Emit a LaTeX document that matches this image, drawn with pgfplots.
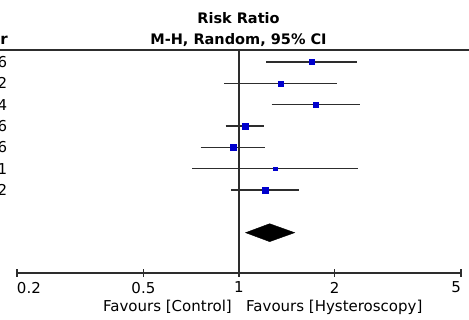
\documentclass[border=0pt]{standalone}
\usepackage{pgfplots}
\pgfplotsset{compat=1.18}
\usepackage{fontspec}
\setmainfont{DejaVu Sans}
\definecolor{mkblue}{RGB}{0,0,205}
\definecolor{ln}{RGB}{45,45,45}
\begin{document}
\begin{tikzpicture}[x=1pt,y=1pt]
\begin{scope}
\clip (0,0) rectangle (469,320);
\begin{axis}[
  at={(17pt,47pt)}, anchor=south west,
  scale only axis, width=444pt, height=223pt,
  xmode=log, xmin=0.2, xmax=5,
  ymin=0.4375, ymax=10.89, y dir=reverse,
  axis x line*=bottom, axis y line=none,
  xtick={0.2,0.5,1,2,5},
  xticklabels={\makebox[0pt][l]{0.2},0.5,1,2,\makebox[0pt][r]{5}},
  minor xtick={},
  tick align=center, major tick length=8pt,
  tick style={ln, line width=1.1pt},
  axis line style={ln, line width=1.1pt},
  xticklabel style={font=\fontsize{15}{18}\selectfont, text=black, yshift=-1.5pt},
  clip=false,
]
% reference line at RR = 1
\addplot[ln, line width=1.2pt] coordinates {(1,0.4375) (1,10.89)};
% confidence intervals
\addplot[ln, line width=1.1pt] coordinates {(1.219,1) (2.36,1)};
\addplot[ln, line width=1.1pt] coordinates {(0.897,2) (2.04,2)};
\addplot[ln, line width=1.1pt] coordinates {(1.267,3) (2.40,3)};
\addplot[ln, line width=1.1pt] coordinates {(0.907,4) (1.20,4)};
\addplot[ln, line width=1.1pt] coordinates {(0.757,5) (1.204,5)};
\addplot[ln, line width=1.1pt] coordinates {(0.712,6) (2.37,6)};
\addplot[ln, line width=1.1pt] coordinates {(0.946,7) (1.546,7)};
% point estimates (weights as marker sizes)
\addplot[only marks, mark=square*, mark size=2.5pt, mkblue] coordinates {(1.70,1)};
\addplot[only marks, mark=square*, mark size=2.4pt, mkblue] coordinates {(1.35,2)};
\addplot[only marks, mark=square*, mark size=2.5pt, mkblue] coordinates {(1.74,3)};
\addplot[only marks, mark=square*, mark size=3.2pt, mkblue] coordinates {(1.044,4)};
\addplot[only marks, mark=square*, mark size=2.9pt, mkblue] coordinates {(0.957,5)};
\addplot[only marks, mark=square*, mark size=1.7pt, mkblue] coordinates {(1.30,6)};
\addplot[only marks, mark=square*, mark size=2.9pt, mkblue] coordinates {(1.21,7)};
% pooled estimate
\addplot[fill=black, draw=black] coordinates {(1.049,9) (1.249,8.58) (1.497,9) (1.249,9.42)} -- cycle;
% study years (cropped at the left edge as in the reference)
\foreach \yr/\r in {2016/1,2012/2,2014/3,2016/4,2016/5,2011/6,2012/7}{
  \edef\tmp{\noexpand\node[anchor=east, inner sep=0pt, font=\noexpand\fontsize{15}{18}\noexpand\selectfont] at (axis cs:0.2,\r) [xshift=-9.5pt] {\yr};}
  \tmp
}
\node[inner sep=0pt, font=\fontsize{15}{18}\selectfont] at (axis cs:1,10.89) [xshift=-7pt, yshift=-39pt, anchor=base east] {Favours [Control]};
\node[inner sep=0pt, font=\fontsize{15}{18}\selectfont] at (axis cs:1,10.89) [xshift=7pt, yshift=-39pt, anchor=base west] {Favours [Hysteroscopy]};
\end{axis}
\draw[ln, line width=1.1pt] (0,270) -- (469,270);
\node[font=\bfseries\fontsize{14.5}{17}\selectfont, anchor=base] at (238.5,296) {Risk Ratio};
\node[font=\bfseries\fontsize{14.5}{17}\selectfont, anchor=base] at (238.5,275) {M-H, Random, 95\% CI};
\node[font=\bfseries\fontsize{15}{18}\selectfont, anchor=base east, inner sep=0pt] at (8,275) {Year};
\end{scope}
\pgfresetboundingbox
\path (0,0) rectangle (469,320);
\end{tikzpicture}
\end{document}
